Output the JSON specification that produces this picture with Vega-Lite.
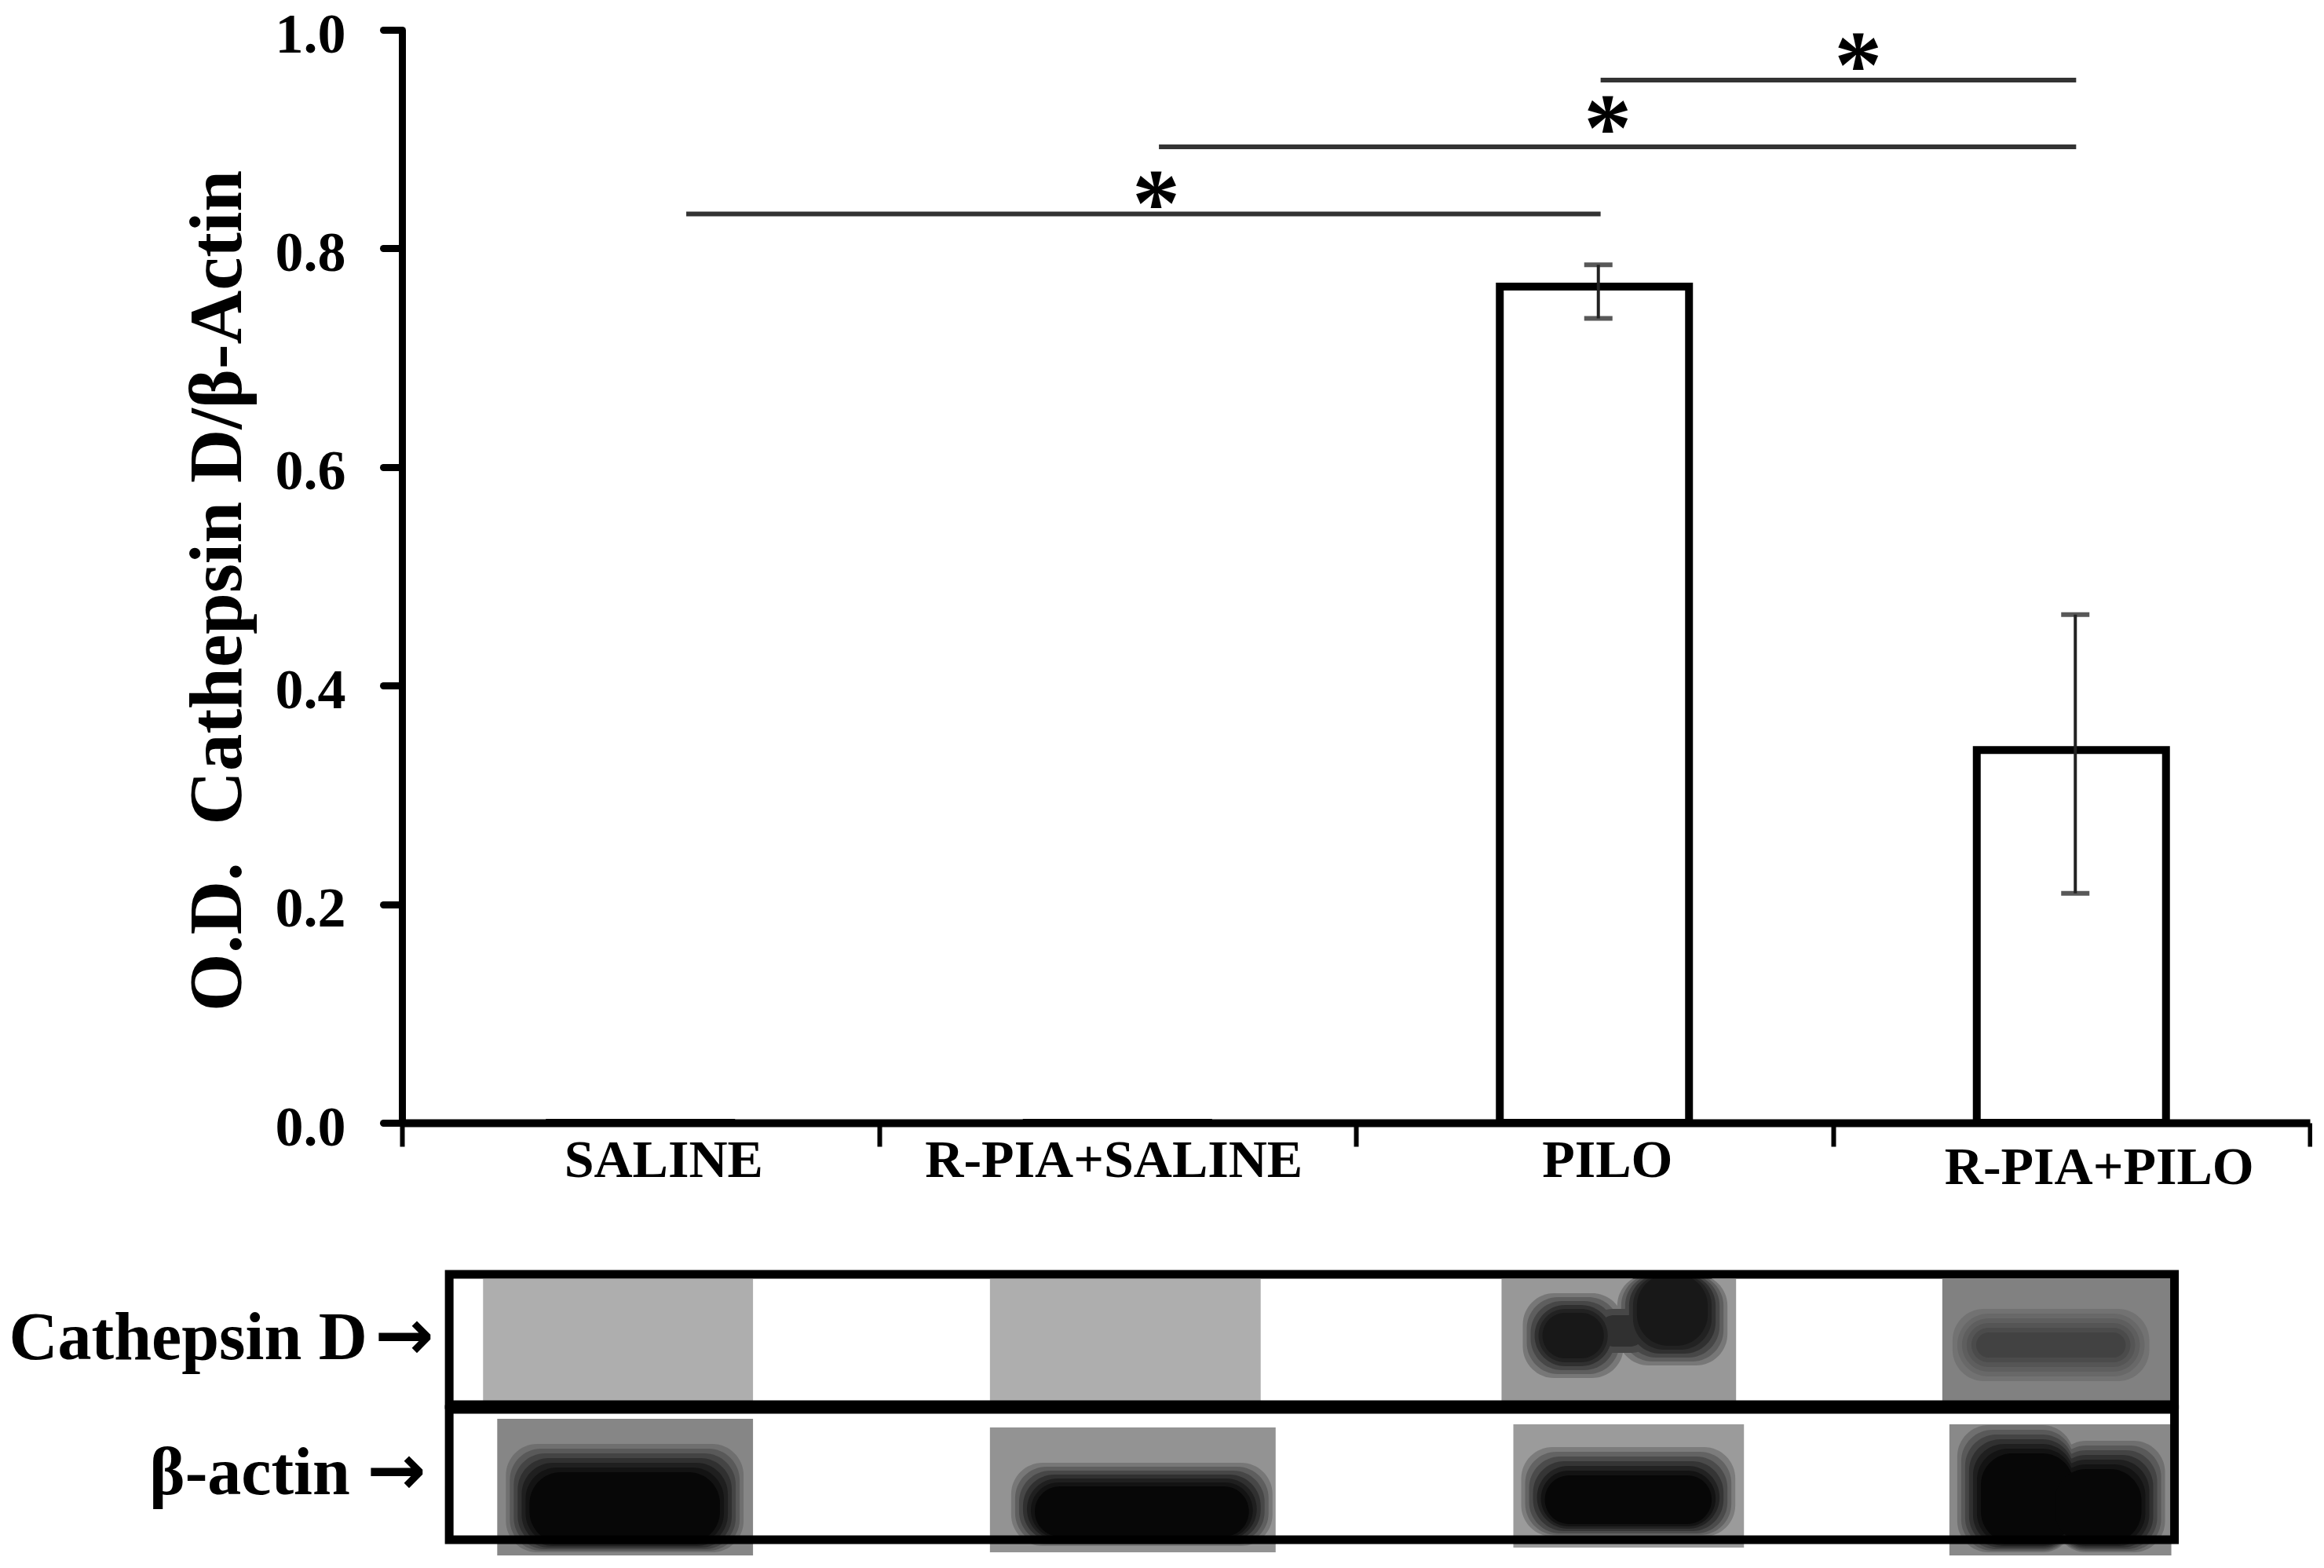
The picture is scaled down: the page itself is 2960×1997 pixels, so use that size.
{
  "$schema": "https://vega.github.io/schema/vega-lite/v6.json",
  "background": "white",
  "padding": {"left": 11, "top": 8, "right": 0, "bottom": 0},
  "spacing": 96,
  "config": {
    "view": {"stroke": null},
    "font": "Liberation Serif"
  },
  "datasets": {
    "groups": [
      {"group": "SALINE", "od": 0},
      {"group": "R-PIA+SALINE", "od": 0},
      {"group": "PILO", "od": 0.765, "low": 0.736, "high": 0.785},
      {"group": "R-PIA+PILO", "od": 0.341, "low": 0.21, "high": 0.465}
    ],
    "sig": [
      {"from": 0.596, "to": 2.513, "level": 0.8315, "star": 1.581, "starLevel": 0.855},
      {"from": 1.587, "to": 3.51, "level": 0.893, "star": 2.528, "starLevel": 0.924},
      {"from": 2.513, "to": 3.51, "level": 0.954, "star": 3.053, "starLevel": 0.981}
    ],
    "patches": [
      {"x0": 51.5, "x1": 223, "y0": 3, "y1": 80.5, "lum": 0.71},
      {"x0": 373.5, "x1": 545.5, "y0": 3, "y1": 80.5, "lum": 0.71},
      {"x0": 698.5, "x1": 847.5, "y0": 3, "y1": 80.5, "lum": 0.63},
      {"x0": 978.5, "x1": 1124, "y0": 3, "y1": 80.5, "lum": 0.54},
      {"x0": 60.5, "x1": 223, "y0": 92, "y1": 179, "lum": 0.56},
      {"x0": 373.5, "x1": 555, "y0": 97.5, "y1": 177, "lum": 0.61},
      {"x0": 706, "x1": 852.5, "y0": 95.5, "y1": 174, "lum": 0.64},
      {"x0": 983, "x1": 1124, "y0": 95.5, "y1": 179, "lum": 0.57}
    ],
    "bands": [
      {"x0": 712, "x1": 776, "y0": 12, "y1": 66, "lum": 0.5},
      {"x0": 772, "x1": 842, "y0": 0, "y1": 58, "lum": 0.5},
      {"x0": 714.5, "x1": 773.5, "y0": 14.5, "y1": 63.5, "lum": 0.4},
      {"x0": 774.5, "x1": 839.5, "y0": 0, "y1": 55.5, "lum": 0.4},
      {"x0": 717, "x1": 771, "y0": 17, "y1": 61, "lum": 0.3},
      {"x0": 777, "x1": 837, "y0": 0, "y1": 53, "lum": 0.3},
      {"x0": 755, "x1": 795, "y0": 22, "y1": 50, "lum": 0.3},
      {"x0": 719.5, "x1": 768.5, "y0": 19.5, "y1": 58.5, "lum": 0.2},
      {"x0": 779.5, "x1": 834.5, "y0": 0, "y1": 50.5, "lum": 0.2},
      {"x0": 760, "x1": 790, "y0": 26, "y1": 46, "lum": 0.2},
      {"x0": 722, "x1": 766, "y0": 22, "y1": 56, "lum": 0.13},
      {"x0": 782, "x1": 832, "y0": 0, "y1": 48, "lum": 0.13},
      {"x0": 724.5, "x1": 763.5, "y0": 24.5, "y1": 53.5, "lum": 0.08},
      {"x0": 784.5, "x1": 829.5, "y0": 0, "y1": 45.5, "lum": 0.08},

      {"x0": 985, "x1": 1110, "y0": 22, "y1": 68, "lum": 0.48},
      {"x0": 988, "x1": 1107, "y0": 25, "y1": 65, "lum": 0.44},
      {"x0": 991, "x1": 1104, "y0": 28, "y1": 62, "lum": 0.4},
      {"x0": 994, "x1": 1101, "y0": 31, "y1": 59, "lum": 0.36},
      {"x0": 997, "x1": 1098, "y0": 34, "y1": 56, "lum": 0.32},
      {"x0": 1000, "x1": 1095, "y0": 37, "y1": 53, "lum": 0.28},

      {"x0": 66, "x1": 217, "y0": 108, "y1": 177, "lum": 0.47},
      {"x0": 68.5, "x1": 214.5, "y0": 111, "y1": 176, "lum": 0.38},
      {"x0": 71, "x1": 212, "y0": 114, "y1": 175, "lum": 0.29},
      {"x0": 73.5, "x1": 209.5, "y0": 117, "y1": 174, "lum": 0.2},
      {"x0": 76, "x1": 207, "y0": 120, "y1": 173, "lum": 0.12},
      {"x0": 78.5, "x1": 204.5, "y0": 123, "y1": 172, "lum": 0.06},
      {"x0": 81, "x1": 202, "y0": 126, "y1": 171, "lum": 0.02},

      {"x0": 387, "x1": 553, "y0": 120, "y1": 173, "lum": 0.5},
      {"x0": 389.5, "x1": 550.5, "y0": 122.5, "y1": 172, "lum": 0.4},
      {"x0": 392, "x1": 548, "y0": 125, "y1": 171, "lum": 0.3},
      {"x0": 394.5, "x1": 545.5, "y0": 127.5, "y1": 170, "lum": 0.2},
      {"x0": 397, "x1": 543, "y0": 130, "y1": 169, "lum": 0.12},
      {"x0": 399.5, "x1": 540.5, "y0": 132.5, "y1": 168, "lum": 0.06},
      {"x0": 402, "x1": 538, "y0": 135, "y1": 167, "lum": 0.02},

      {"x0": 711, "x1": 847, "y0": 110, "y1": 167, "lum": 0.52},
      {"x0": 713.5, "x1": 844.5, "y0": 113, "y1": 166, "lum": 0.42},
      {"x0": 716, "x1": 842, "y0": 116, "y1": 165, "lum": 0.32},
      {"x0": 718.5, "x1": 839.5, "y0": 119, "y1": 163.5, "lum": 0.22},
      {"x0": 721, "x1": 837, "y0": 122, "y1": 162, "lum": 0.13},
      {"x0": 723.5, "x1": 834.5, "y0": 125, "y1": 160.5, "lum": 0.06},
      {"x0": 726, "x1": 832, "y0": 128, "y1": 159, "lum": 0.02},

      {"x0": 988, "x1": 1062, "y0": 96, "y1": 177, "lum": 0.47},
      {"x0": 1050, "x1": 1120, "y0": 106, "y1": 177, "lum": 0.47},
      {"x0": 990.5, "x1": 1062, "y0": 99, "y1": 176, "lum": 0.38},
      {"x0": 1050, "x1": 1117.5, "y0": 109, "y1": 176, "lum": 0.38},
      {"x0": 993, "x1": 1062, "y0": 102, "y1": 175, "lum": 0.29},
      {"x0": 1050, "x1": 1115, "y0": 112, "y1": 175, "lum": 0.29},
      {"x0": 995.5, "x1": 1062, "y0": 105, "y1": 174, "lum": 0.2},
      {"x0": 1050, "x1": 1112.5, "y0": 115, "y1": 174, "lum": 0.2},
      {"x0": 998, "x1": 1062, "y0": 108, "y1": 173, "lum": 0.12},
      {"x0": 1050, "x1": 1110, "y0": 118, "y1": 173, "lum": 0.12},
      {"x0": 1000.5, "x1": 1062, "y0": 111, "y1": 172, "lum": 0.06},
      {"x0": 1050, "x1": 1107.5, "y0": 121, "y1": 172, "lum": 0.06},
      {"x0": 1003, "x1": 1062, "y0": 114, "y1": 171, "lum": 0.02},
      {"x0": 1050, "x1": 1105, "y0": 124, "y1": 171, "lum": 0.02}
    ],
    "frames": [
      {"x0": 30, "x1": 1126, "y0": 0, "y1": 83, "label": "Cathepsin D", "labelX": -22, "arrowX": 1.5, "labelY": 54},
      {"x0": 30, "x1": 1126, "y0": 86, "y1": 169, "label": "β-actin", "labelX": -33, "arrowX": -3.5, "labelY": 140}
    ]
  },
  "vconcat": [
    {
      "width": 2430,
      "height": 1392,
      "resolve": {"scale": {"x": "independent"}},
      "layer": [
        {
          "data": {"name": "groups"},
          "mark": {"type": "bar", "width": 241, "fill": "white", "stroke": "black", "strokeWidth": 10},
          "encoding": {
            "x": {
              "field": "group",
              "type": "nominal",
              "sort": ["SALINE", "R-PIA+SALINE", "PILO", "R-PIA+PILO"],
              "scale": {"paddingInner": 0, "paddingOuter": 0},
              "axis": {
                "title": null,
                "labelAngle": 0,
                "labelFont": "Liberation Serif",
                "labelFontWeight": "bold",
                "labelFontSize": 68,
                "labelColor": "black",
                "labelBaseline": "alphabetic",
                "labelLimit": 0,
                "labelPadding": {"condition": {"test": "datum.value == 'R-PIA+PILO'", "value": 47}, "value": 38},
                "labelOffset": {
                  "condition": [
                    {"test": "datum.value == 'SALINE'", "value": 29},
                    {"test": "datum.value == 'R-PIA+SALINE'", "value": -5},
                    {"test": "datum.value == 'PILO'", "value": 16},
                    {"test": "datum.value == 'R-PIA+PILO'", "value": 35}
                  ],
                  "value": 0
                },
                "labelOverlap": false,
                "labelBound": false,
                "labelFlush": false,
                "tickBand": "extent",
                "tickSize": 30,
                "tickWidth": 6,
                "tickColor": "black",
                "domainColor": "black",
                "domainWidth": 10
              }
            },
            "y": {
              "field": "od",
              "type": "quantitative",
              "scale": {"domain": [0, 1], "nice": false},
              "axis": {
                "title": "O.D.\u00a0\u00a0Cathepsin D/β-Actin",
                "titleFont": "Liberation Serif",
                "titleFontWeight": "bold",
                "titleFontSize": 95,
                "titleColor": "black",
                "titleAngle": 270,
                "titleBaseline": "alphabetic",
                "titleAlign": "center",
                "titleLimit": 0,
                "titleX": -206,
                "titleY": 714,
                "values": [0, 0.2, 0.4, 0.6, 0.8, 1],
                "format": ".1f",
                "grid": false,
                "labelFont": "Liberation Serif",
                "labelFontWeight": "bold",
                "labelFontSize": 72,
                "labelColor": "black",
                "labelPadding": 48,
                "labelOffset": 6,
                "labelFlush": false,
                "labelBound": false,
                "tickSize": 24,
                "tickWidth": 9,
                "tickCap": "round",
                "tickColor": "black",
                "domainColor": "black",
                "domainWidth": 9
              }
            }
          }
        },
        {
          "data": {"name": "groups"},
          "transform": [{"filter": "datum.low != null"}],
          "mark": {
            "type": "errorbar",
            "rule": {"strokeWidth": 4, "color": "#222", "xOffset": 5},
            "ticks": {"size": 36, "thickness": 6, "color": "#111", "xOffset": 5}
          },
          "encoding": {
            "x": {
              "field": "group",
              "type": "nominal",
              "scale": {"domain": ["SALINE", "R-PIA+SALINE", "PILO", "R-PIA+PILO"], "paddingInner": 0, "paddingOuter": 0},
              "axis": null
            },
            "y": {"field": "low", "type": "quantitative", "title": "O.D.\u00a0\u00a0Cathepsin D/β-Actin"},
            "y2": {"field": "high"}
          }
        },
        {
          "data": {"name": "sig"},
          "mark": {"type": "rule", "color": "#333", "strokeWidth": 6},
          "encoding": {
            "x": {"field": "from", "type": "quantitative", "scale": {"domain": [0, 4], "nice": false}, "axis": null},
            "x2": {"field": "to"},
            "y": {"field": "level", "type": "quantitative"}
          }
        },
        {
          "data": {"name": "sig"},
          "mark": {"type": "text", "text": "*", "font": "Liberation Serif", "fontWeight": "bold", "fontSize": 122, "color": "black", "baseline": "alphabetic", "dy": 60},
          "encoding": {
            "x": {"field": "star", "type": "quantitative", "scale": {"domain": [0, 4], "nice": false}, "axis": null},
            "y": {"field": "starLevel", "type": "quantitative"}
          }
        }
      ]
    },
    {
      "width": 2430,
      "height": 338,
      "layer": [
        {
          "data": {"name": "patches"},
          "mark": {"type": "rect"},
          "encoding": {
            "x": {"field": "x0", "type": "quantitative", "scale": {"domain": [0, 1212], "nice": false}, "axis": null},
            "x2": {"field": "x1"},
            "y": {"field": "y0", "type": "quantitative", "scale": {"domain": [0, 169], "nice": false, "reverse": true}, "axis": null},
            "y2": {"field": "y1"},
            "color": {"field": "lum", "type": "quantitative", "scale": {"domain": [0, 1], "range": ["#000000", "#ffffff"]}, "legend": null}
          }
        },
        {
          "data": {"name": "bands"},
          "mark": {"type": "rect", "cornerRadius": 40},
          "encoding": {
            "x": {"field": "x0", "type": "quantitative", "axis": null},
            "x2": {"field": "x1"},
            "y": {"field": "y0", "type": "quantitative", "axis": null},
            "y2": {"field": "y1"},
            "color": {"field": "lum", "type": "quantitative", "legend": null}
          }
        },
        {
          "data": {"name": "frames"},
          "mark": {"type": "rect", "fill": null, "stroke": "black", "strokeWidth": 11},
          "encoding": {
            "x": {"field": "x0", "type": "quantitative", "axis": null},
            "x2": {"field": "x1"},
            "y": {"field": "y0", "type": "quantitative", "axis": null},
            "y2": {"field": "y1"}
          }
        },
        {
          "data": {"name": "frames"},
          "mark": {"type": "text", "font": "Liberation Serif", "fontWeight": "bold", "fontSize": 86, "align": "right", "baseline": "alphabetic", "color": "black"},
          "encoding": {
            "x": {"field": "labelX", "type": "quantitative"},
            "y": {"field": "labelY", "type": "quantitative"},
            "text": {"field": "label"}
          }
        },
        {
          "data": {"name": "frames"},
          "mark": {"type": "text", "text": "→", "font": "DejaVu Sans", "fontWeight": "bold", "fontSize": 90, "align": "center", "baseline": "alphabetic", "color": "black"},
          "encoding": {
            "x": {"field": "arrowX", "type": "quantitative"},
            "y": {"field": "labelY", "type": "quantitative"}
          }
        }
      ]
    }
  ]
}
